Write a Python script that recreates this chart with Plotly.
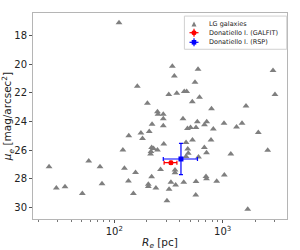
import plotly.graph_objects as go

# LG galaxies: effective radius [pc] and mean surface brightness [mag/arcsec^2]
lg_re = [110.5, 163, 202, 250, 253, 283, 283, 223, 283, 136, 176, 210, 182, 120,
         221, 230, 218, 216, 250, 25.0, 58.1, 73.8, 124, 157, 267, 221, 135, 77.0,
         206, 206, 242, 29.2, 35.1, 50.7, 150, 555, 318, 377, 442, 465, 611, 524,
         3034, 1640, 788, 430, 583, 712, 679, 1028, 1507, 473, 505, 567, 819, 1341,
         2130, 526, 780, 286, 459, 476, 677, 2600, 481, 459, 709, 1188, 598, 363,
         363, 333, 368, 437, 567, 701, 709, 880, 1035, 320, 306, 564, 1701, 343,
         358, 592, 2911]
lg_mu = [17.07, 21.53, 22.72, 23.31, 23.49, 23.49, 23.81, 24.20, 24.30, 25.00, 24.81,
         24.70, 25.19, 26.00, 25.82, 25.89, 26.11, 26.28, 26.00, 27.17, 26.77, 27.17,
         27.28, 27.58, 27.37, 27.87, 28.18, 28.36, 28.41, 28.56, 28.67, 28.67, 28.58,
         29.05, 29.05, 21.25, 22.11, 22.02, 21.89, 21.89, 22.30, 22.61, 22.11, 22.91,
         23.11, 23.81, 24.01, 24.01, 24.23, 24.13, 24.13, 24.49, 24.42, 24.42, 24.53,
         24.39, 24.77, 25.30, 25.30, 25.58, 25.47, 25.93, 25.82, 26.02, 26.23, 26.46,
         26.19, 26.28, 26.49, 27.40, 27.59, 28.27, 28.46, 28.27, 28.21, 27.86, 28.01,
         28.20, 27.75, 28.76, 29.56, 29.16, 30.16, 20.13, 20.81, 20.33, 20.42]

# Donatiello I measurements
galfit_re = [333]
galfit_re_err = [45]
galfit_mu = [26.89]
galfit_mu_err = [0.1]

rsp_re = [412]
rsp_re_err_plus = [173]
rsp_re_err_minus = [129]
rsp_mu = [26.63]
rsp_mu_err = [1.1]

legend_labels = ["LG galaxies", "Donatiello I. (GALFIT)", "Donatiello I. (RSP)"]
x_tickvals = [100, 1000]
x_ticktext = ["10<sup>2</sup>", "10<sup>3</sup>"]
y_tickvals = [18, 20, 22, 24, 26, 28, 30]

LG_COLOR = "#7f7f7f"

fig = go.Figure()
fig.add_trace(go.Scatter(
    x=lg_re, y=lg_mu, mode="markers", name=legend_labels[0],
    marker=dict(symbol="triangle-up", size=6, color=LG_COLOR),
))
fig.add_trace(go.Scatter(
    x=galfit_re, y=galfit_mu, mode="markers", name=legend_labels[1],
    marker=dict(symbol="circle", size=5, color="red"),
    error_x=dict(type="data", array=galfit_re_err, color="red", thickness=1.2, width=2),
    error_y=dict(type="data", array=galfit_mu_err, color="red", thickness=1.2, width=2),
))
fig.add_trace(go.Scatter(
    x=rsp_re, y=rsp_mu, mode="markers", name=legend_labels[2],
    marker=dict(symbol="square", size=5, color="blue"),
    error_x=dict(type="data", array=rsp_re_err_plus, arrayminus=rsp_re_err_minus,
                 color="blue", thickness=1.2, width=2),
    error_y=dict(type="data", array=rsp_mu_err, color="blue", thickness=1.2, width=2),
))

axis_common = dict(
    showgrid=False, zeroline=False, showline=True, mirror=True, automargin=False,
    linecolor="#b5b5b5", linewidth=1, ticks="outside", ticklen=3,
    tickcolor="#555", tickfont=dict(family="DejaVu Sans", size=10, color="#222"),
)

fig.update_xaxes(
    type="log", range=[1.25, 3.593], tickvals=x_tickvals, ticktext=x_ticktext,
    minor=dict(ticks="outside", ticklen=2, tickcolor="#777", dtick="D1"),
    title=dict(text="<i>R</i><sub><i>e</i></sub> [pc]", standoff=4,
               font=dict(family="DejaVu Sans", size=10.5, color="#222")),
    **axis_common,
)
fig.update_yaxes(
    range=[30.84, 16.39], tickvals=y_tickvals,
    title=dict(text="<i>μ</i><sub><i>e</i></sub> [mag/arcsec<sup>2</sup>]", standoff=2,
               font=dict(family="DejaVu Sans", size=10.5, color="#222")),
    **axis_common,
)

# Compact matplotlib-style legend (drawn as layout decorations in paper coords)
shapes = [
    dict(type="rect", xref="paper", yref="paper", x0=0.596, x1=0.999, y0=0.824, y1=0.985,
         line=dict(color="#d0d0d0", width=1), fillcolor="rgba(255,255,255,0.85)", layer="above"),
    # LG triangle
    dict(type="path", xref="paper", yref="paper",
         path="M 0.624 0.9345 L 0.6437 0.9345 L 0.6339 0.9587 Z",
         fillcolor=LG_COLOR, line=dict(width=0), layer="above"),
    # GALFIT cross + circle
    dict(type="line", xref="paper", yref="paper", x0=0.6161, x1=0.6516, y0=0.9044, y1=0.9044,
         line=dict(color="red", width=1.2), layer="above"),
    dict(type="line", xref="paper", yref="paper", x0=0.6339, x1=0.6339, y0=0.8850, y1=0.9238,
         line=dict(color="red", width=1.2), layer="above"),
    dict(type="circle", xref="paper", yref="paper", x0=0.624, x1=0.6437, y0=0.8922, y1=0.9165,
         fillcolor="red", line=dict(width=0), layer="above"),
    # RSP cross + square
    dict(type="line", xref="paper", yref="paper", x0=0.6161, x1=0.6516, y0=0.8578, y1=0.8578,
         line=dict(color="blue", width=1.2), layer="above"),
    dict(type="line", xref="paper", yref="paper", x0=0.6339, x1=0.6339, y0=0.8383, y1=0.8772,
         line=dict(color="blue", width=1.2), layer="above"),
    dict(type="rect", xref="paper", yref="paper", x0=0.6248, x1=0.6429, y0=0.8466, y1=0.8689,
         fillcolor="blue", line=dict(width=0), layer="above"),
]
annotations = [
    dict(text=lab, xref="paper", yref="paper", x=0.684, y=yy, xanchor="left", yanchor="middle",
         showarrow=False, font=dict(family="DejaVu Sans", size=6.5, color="#222"))
    for lab, yy in zip(legend_labels, [0.9466, 0.9044, 0.8578])
]

fig.update_layout(
    width=300, height=250,
    margin=dict(l=33, r=13, t=13, b=31),
    plot_bgcolor="white", paper_bgcolor="white",
    showlegend=False,
    shapes=shapes, annotations=annotations,
)

fig.write_html(
    "out.html",
    config={"displayModeBar": False},
    post_script="document.body.style.margin='0';document.body.style.overflow='hidden';",
)
